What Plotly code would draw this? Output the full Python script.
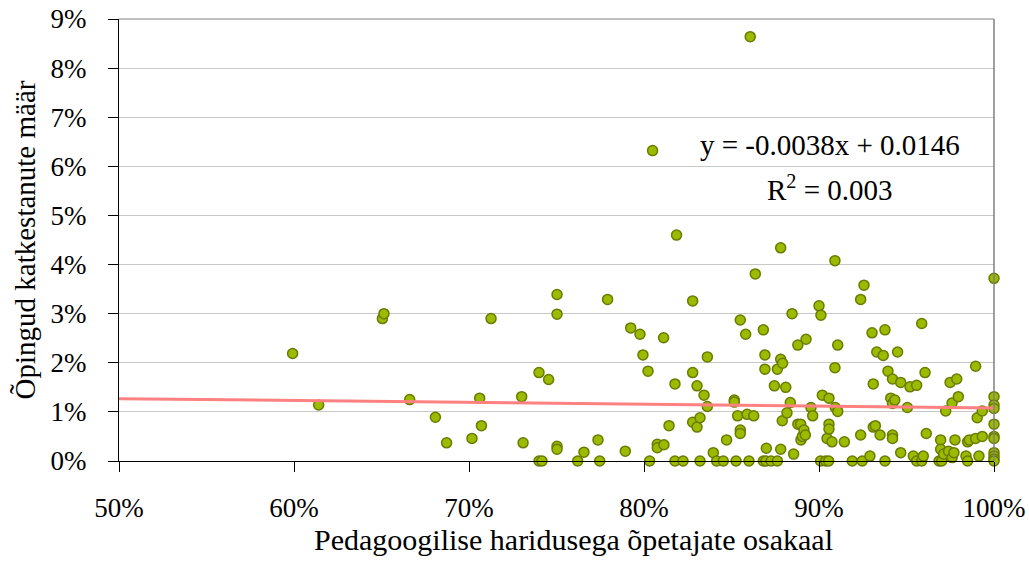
import plotly.graph_objects as go

# Share of teachers with pedagogical education (%) vs. dropout rate (%), one point per school
teacher_share = [
    59.92, 61.41, 65.05, 65.14, 66.61, 68.08, 68.72, 70.17, 70.61, 70.71,
    71.26, 73.01, 73.09, 74.00, 74.00, 74.17, 74.55, 75.03, 75.03, 75.03,
    75.03, 76.21, 76.57, 77.37, 77.47, 77.92, 78.93, 79.24, 79.77, 79.94,
    80.23, 80.32, 80.49, 80.76, 80.76, 81.12, 81.14, 81.43, 81.77, 81.77,
    81.86, 82.23, 82.78, 82.78, 82.78, 83.03, 83.03, 83.20, 83.20, 83.43,
    83.62, 83.62, 83.96, 84.15, 84.53, 84.72, 85.16, 85.16, 85.26, 85.35,
    85.50, 85.50, 85.50, 85.81, 85.89, 86.00, 86.07, 86.27, 86.36, 86.82,
    86.82, 86.91, 86.91, 86.97, 86.99, 87.26, 87.45, 87.62, 87.62, 87.81,
    87.81, 87.81, 87.90, 87.92, 88.10, 88.17, 88.36, 88.46, 88.55, 88.79,
    88.79, 88.95, 88.97, 89.05, 89.14, 89.22, 89.26, 89.54, 89.64, 90.00,
    90.09, 90.11, 90.19, 90.38, 90.46, 90.55, 90.57, 90.57, 90.57, 90.74,
    90.91, 90.91, 90.93, 91.07, 91.07, 91.45, 91.90, 92.38, 92.38, 92.47,
    92.57, 92.91, 93.03, 93.10, 93.10, 93.22, 93.30, 93.49, 93.67, 93.77,
    93.77, 93.94, 94.10, 94.20, 94.20, 94.20, 94.20, 94.33, 94.49, 94.67,
    94.67, 95.05, 95.20, 95.39, 95.58, 95.58, 95.87, 95.87, 95.96, 96.06,
    96.13, 96.86, 96.95, 96.95, 97.01, 97.12, 97.24, 97.40, 97.49, 97.60,
    97.61, 97.71, 97.77, 97.87, 97.96, 98.40, 98.49, 98.49, 98.59, 98.95,
    98.95, 99.04, 99.14, 99.33, 99.33, 100.0, 100.0, 100.0, 100.0, 100.0,
    100.0, 100.0, 100.0, 100.0, 100.0, 100.0,
]
dropout_rate = [
    2.19, 1.14, 2.90, 3.00, 1.25, 0.89, 0.37, 0.46, 1.28, 0.72,
    2.90, 1.31, 0.37, 1.80, 0.00, 0.00, 1.66, 3.39, 2.99, 0.30,
    0.24, 0.00, 0.18, 0.43, 0.00, 3.29, 0.20, 2.71, 2.58, 2.16,
    1.83, 0.00, 6.32, 0.34, 0.27, 2.51, 0.33, 0.72, 1.57, 0.00,
    4.60, 0.00, 3.26, 1.80, 0.79, 1.53, 0.69, 0.88, 0.00, 1.34,
    2.12, 1.11, 0.17, 0.00, 0.00, 0.43, 1.24, 1.20, 0.00, 0.92,
    2.87, 0.63, 0.56, 2.58, 0.95, 0.00, 8.64, 0.92, 3.81, 2.67,
    0.00, 2.16, 1.87, 0.00, 0.26, 0.00, 1.53, 1.87, 0.00, 4.34,
    2.07, 0.24, 0.82, 1.99, 1.50, 0.98, 1.19, 3.00, 0.14, 2.36,
    0.75, 0.75, 0.43, 0.50, 0.63, 0.53, 2.48, 1.09, 0.92, 3.16,
    0.00, 2.97, 1.34, 0.00, 0.46, 0.00, 1.28, 0.75, 0.65, 0.39,
    4.08, 1.90, 1.09, 2.36, 1.01, 0.39, 0.00, 3.29, 0.53, 0.00,
    3.58, 0.10, 2.61, 1.57, 0.69, 0.72, 2.22, 0.53, 2.15, 2.67,
    0.00, 1.83, 1.28, 1.67, 1.17, 0.53, 0.46, 1.24, 2.22, 1.60,
    0.17, 1.09, 1.51, 0.10, 1.54, 0.00, 2.80, 0.00, 0.10, 1.80,
    0.56, 0.00, 0.43, 0.24, 0.00, 0.14, 1.02, 0.20, 1.60, 1.18,
    0.07, 0.17, 0.43, 1.67, 1.31, 0.10, 0.39, 0.00, 0.43, 1.93,
    0.46, 0.88, 0.10, 1.02, 0.50, 3.72, 1.31, 1.14, 1.07, 0.75,
    0.50, 0.46, 0.17, 0.10, 0.04, 0.00,
]

# Linear trend fitted to the data (fractions)
slope = -0.0038
intercept = 0.0146
r_squared = 0.003

x_ticks = [0.5, 0.6, 0.7, 0.8, 0.9, 1.0]
y_ticks = [0.00, 0.01, 0.02, 0.03, 0.04, 0.05, 0.06, 0.07, 0.08, 0.09]

xs = [v / 100 for v in teacher_share]
ys = [v / 100 for v in dropout_rate]
trend_x = [x_ticks[0], x_ticks[-1]]
trend_y = [slope * x + intercept for x in trend_x]

FONT = "Liberation Serif"

fig = go.Figure()
fig.add_trace(go.Scatter(
    x=xs, y=ys, mode="markers",
    marker=dict(size=10, color="#9bbb00", line=dict(color="#6b7b00", width=1.5)),
    cliponaxis=False, showlegend=False,
))
fig.add_trace(go.Scatter(
    x=trend_x, y=trend_y, mode="lines",
    line=dict(color="#ff8080", width=3),
    showlegend=False,
))

fig.update_layout(
    width=1029, height=562,
    margin=dict(l=119, r=35, t=19, b=101),
    paper_bgcolor="white", plot_bgcolor="white",
    font=dict(family=FONT, size=27, color="black"),
    xaxis=dict(
        range=[0.5, 1.0], tickvals=x_ticks, tickformat=".0%",
        automargin=False,
        showgrid=False, zeroline=False,
        showline=True, linecolor="black", linewidth=1,
        ticks="outside", ticklen=10, tickcolor="black",
        ticklabelstandoff=13,
    ),
    yaxis=dict(
        range=[0, 0.09], tickvals=y_ticks, tickformat=".0%",
        automargin=False,
        showgrid=True, gridcolor="#c8c8c8", gridwidth=1, zeroline=False,
        showline=True, linecolor="black", linewidth=1,
        ticks="outside", ticklen=10, tickcolor="black",
        ticklabelstandoff=16,
        title=dict(text="Õpingud katkestanute määr",
                   font=dict(family=FONT, size=29), standoff=6),
    ),
    shapes=[
        dict(type="line", xref="paper", yref="paper", x0=1, x1=1, y0=0, y1=1,
             line=dict(color="#808080", width=1.5)),
        dict(type="line", xref="paper", yref="paper", x0=0, x1=1, y0=1, y1=1,
             line=dict(color="#808080", width=1)),
    ],
    annotations=[
        dict(x=0.519, y=-0.178, xref="paper", yref="paper", showarrow=False,
             text="Pedagoogilise haridusega õpetajate osakaal",
             font=dict(family=FONT, size=30), xanchor="center", yanchor="middle"),
        dict(x=0.906, y=0.0644, xref="x", yref="y", showarrow=False,
             text=f"y = {slope:.4f}x + {intercept:.4f}",
             font=dict(family=FONT, size=29), xanchor="center", yanchor="middle"),
        dict(x=0.906, y=0.0556, xref="x", yref="y", showarrow=False,
             text=f"R<sup>2</sup> = {r_squared:.3f}",
             font=dict(family=FONT, size=29), xanchor="center", yanchor="middle"),
    ],
)

fig.write_html("out.html")
